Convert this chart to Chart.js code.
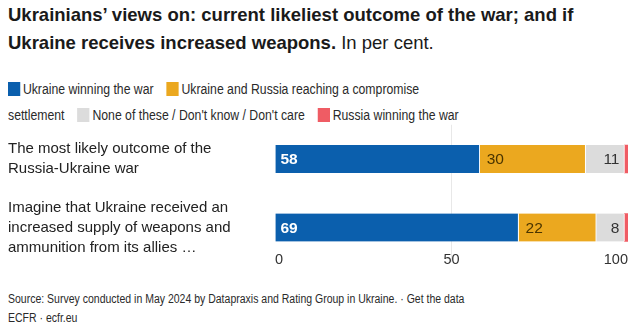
<!DOCTYPE html>
<html>
<head>
<meta charset="utf-8">
<script src="https://cdn.jsdelivr.net/npm/chart.js@4.4.1/dist/chart.umd.min.js"></script>
<style>
  body { margin: 0; background: #fff; font-family: "Liberation Sans", Arial, sans-serif; color: #222; }
  #wrap { position: relative; width: 640px; height: 329px; overflow: hidden; }
  #title { position: absolute; left: 8px; top: 1px; width: 630px; font-size: 18.5px; line-height: 28px; font-weight: bold; color: #1a1a1a; }
  #title span { font-weight: normal; }
  #legend { position: absolute; left: 8px; top: 76px; width: 700px; font-size: 14px; line-height: 26px; color: #2a2a2a;
            transform: scaleX(0.875); transform-origin: 0 0; }
  #legend .item { white-space: nowrap; margin-right: 11px; }
  #legend i { display: inline-block; width: 14px; height: 14px; margin-right: 3px; vertical-align: -2px; }
  #chart { position: absolute; left: 0; top: 120px; }
  #foot { position: absolute; left: 8px; top: 290px; width: 700px; font-size: 12.5px; line-height: 19px; color: #2a2a2a;
          transform: scaleX(0.84); transform-origin: 0 0; }
</style>
</head>
<body>
<div id="wrap">
  <div id="title">Ukrainians’ views on: current likeliest outcome of the war; and if Ukraine receives increased weapons. <span>In per cent.</span></div>
  <div id="legend"></div>
  <canvas id="chart" width="640" height="160"></canvas>
  <div id="foot">Source: Survey conducted in May 2024 by Datapraxis and Rating Group in Ukraine. · Get the data<br>ECFR · ecfr.eu</div>
</div>
<script>
var questions = [
  ["The most likely outcome of the", "Russia-Ukraine war"],
  ["Imagine that Ukraine received an", "increased supply of weapons and", "ammunition from its allies …"]
];
var seriesNames = ["Ukraine winning the war", "Ukraine and Russia reaching a compromise settlement", "None of these / Don't know / Don't care", "Russia winning the war"];
var seriesColors = ["#0b5fad", "#eba81f", "#dcdcdc", "#ef5c64"];
var ukraineWins = [58, 69];
var compromise = [30, 22];
var noneDontKnow = [11, 8];
var russiaWins = [1, 1];
var xTicks = [0, 50, 100];

var FONT = "'Liberation Sans', Arial, sans-serif";

// legend in plain html; the second entry breaks before its last word
var legend = document.getElementById("legend");
seriesNames.forEach(function (name, i) {
  var item = document.createElement("span");
  item.className = "item";
  var text = i === 1 ? name.replace(" settlement", "<br>settlement") : name;
  item.innerHTML = '<i style="background:' + seriesColors[i] + '"></i>' + text;
  legend.appendChild(item);
  legend.appendChild(document.createTextNode(" "));
});

// value labels inside the segments
var valueLabels = {
  id: "valueLabels",
  afterDatasetsDraw: function (chart) {
    var ctx = chart.ctx;
    ctx.save();
    ctx.textBaseline = "middle";
    chart.data.datasets.forEach(function (ds, di) {
      if (di > 2) return;
      chart.getDatasetMeta(di).data.forEach(function (bar, i) {
        var v = ds.data[i];
        if (di === 0) {
          ctx.font = "bold 15.5px " + FONT;
          ctx.fillStyle = "#fff";
          ctx.textAlign = "left";
          ctx.fillText(v, bar.base + 5, bar.y + 1);
        } else if (di === 1) {
          ctx.font = "15.5px " + FONT;
          ctx.fillStyle = "#4a3500";
          ctx.textAlign = "left";
          ctx.fillText(v, bar.base + 7, bar.y + 1);
        } else {
          ctx.font = "15.5px " + FONT;
          ctx.fillStyle = "#333";
          ctx.textAlign = "right";
          ctx.fillText(v, bar.x - 5, bar.y + 1);
        }
      });
    });
    ctx.restore();
  }
};

var values = [ukraineWins, compromise, noneDontKnow, russiaWins];
new Chart(document.getElementById("chart"), {
  type: "bar",
  data: {
    labels: questions,
    datasets: values.map(function (d, i) {
      return {
        label: seriesNames[i],
        data: d,
        backgroundColor: seriesColors[i],
        borderColor: "#fff",
        borderWidth: i < 3 ? { right: 1 } : 0,
        borderSkipped: false,
        barThickness: 28
      };
    })
  },
  options: {
    indexAxis: "y",
    responsive: false,
    animation: false,
    layout: { padding: { left: 8, right: 12, top: 4.75, bottom: 0 } },
    plugins: { legend: { display: false }, tooltip: { enabled: false } },
    scales: {
      x: {
        stacked: true,
        min: 0,
        max: 100,
        afterBuildTicks: function (scale) {
          scale.ticks = xTicks.map(function (v) { return { value: v }; });
        },
        afterFit: function (scale) {
          scale.height = 18.25;
          scale.paddingLeft = 0;
          scale.paddingRight = 0;
        },
        border: { display: false },
        grid: {
          drawTicks: false,
          color: function (c) { return c.tick && c.tick.value === 50 ? "#e8e8e8" : "rgba(0,0,0,0)"; }
        },
        ticks: {
          align: "inner",
          mirror: true,
          padding: -7,
          color: "#333",
          font: { family: FONT, size: 14.5 }
        }
      },
      y: {
        stacked: true,
        afterFit: function (scale) {
          scale.width = 267;
          scale.paddingTop = 0;
          scale.paddingBottom = 0;
        },
        border: { display: false },
        grid: { display: false },
        ticks: {
          crossAlign: "far",
          color: "#222",
          font: { family: FONT, size: 15, lineHeight: "20px" }
        }
      }
    }
  },
  plugins: [valueLabels]
});
</script>
</body>
</html>
